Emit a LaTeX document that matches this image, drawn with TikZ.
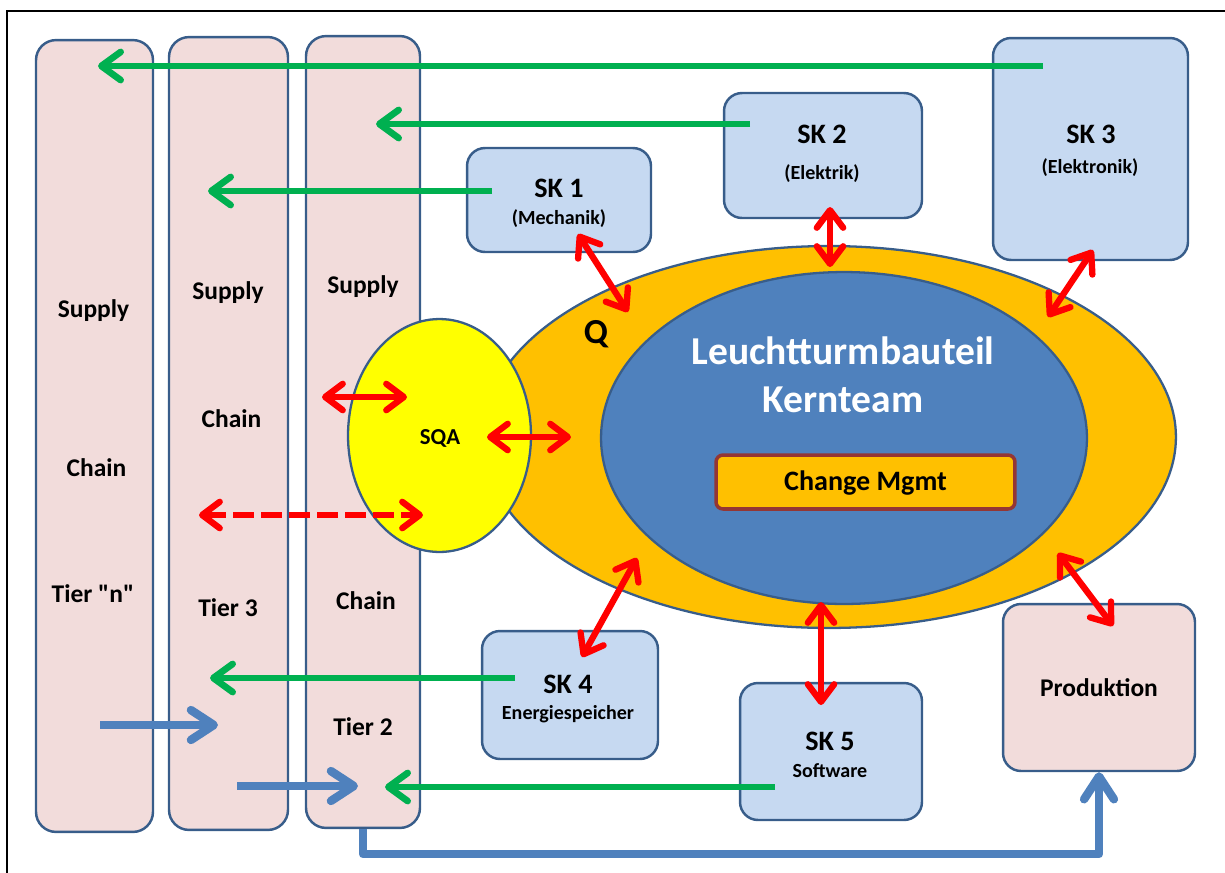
\documentclass[tikz,border=0pt]{standalone}
\usepackage{fontspec}
\setmainfont{Carlito}[Ligatures=TeXOff]
\usetikzlibrary{arrows.meta,shapes.geometric}

\definecolor{pinkfill}{HTML}{F2DCDB}
\definecolor{edgeblue}{HTML}{385D8A}
\definecolor{skfill}{HTML}{C6D9F1}
\definecolor{qorange}{HTML}{FFC000}
\definecolor{coreblue}{HTML}{4F81BD}
\definecolor{sqayellow}{HTML}{FFFF00}
\definecolor{flowgreen}{HTML}{00B050}
\definecolor{linkred}{HTML}{FF0000}
\definecolor{cmborder}{HTML}{943634}

\tikzset{
  column/.style={draw=edgeblue, fill=pinkfill, line width=1.4pt, rounded corners=0.4cm},
  skbox/.style={draw=edgeblue, fill=skfill, line width=1.4pt, rounded corners=0.36cm},
  prodbox/.style={draw=edgeblue, fill=pinkfill, line width=1.4pt, rounded corners=0.36cm},
  lbl/.style={font=\bfseries, anchor=base, inner sep=0pt},
  coltext/.style={lbl, font=\fontsize{14.5}{16}\selectfont\bfseries},
  sktitle/.style={lbl, font=\fontsize{16}{18}\selectfont\bfseries},
  sksub/.style={lbl, font=\fontsize{11.4}{13}\selectfont\bfseries},
  barb/.style={-{Straight Barb[length=11pt, width=16pt, line cap=round, line join=round]}},
  greenflow/.style={draw=flowgreen, line width=3.8pt, barb},
  blueflow/.style={draw=coreblue, line width=4.8pt,
    -{Straight Barb[length=13pt, width=17pt, line cap=round, line join=round]}},
  redlink/.style={draw=linkred, line width=3.6pt,
    {Straight Barb[length=10pt, width=15pt, line cap=round, line join=round]}-{Straight Barb[length=10pt, width=15pt, line cap=round, line join=round]}},
}

\begin{document}
\begin{tikzpicture}[x=0.02cm, y=-0.02cm]
\useasboundingbox (0,0) rectangle (1225,873);
\clip (0,0) rectangle (1225,873);

% outer frame
\draw[line width=1.3pt] (7,11) rectangle (1240,890);

% supply chain columns
\node[column, minimum width=2.34cm, minimum height=15.84cm] (tn) at (94.5,436) {};
\node[column, minimum width=2.38cm, minimum height=15.86cm] (t3) at (228.5,433.5) {};
\node[column, minimum width=2.28cm, minimum height=15.84cm] (t2) at (363,432) {};

% system component boxes
\node[skbox, minimum width=3.68cm, minimum height=2.08cm] (sk1) at (559,200) {};
\node[skbox, minimum width=3.96cm, minimum height=2.50cm] (sk2) at (823,155.5) {};
\node[skbox, minimum width=3.90cm, minimum height=4.44cm] (sk3) at (1090.5,149) {};
\node[skbox, minimum width=3.52cm, minimum height=2.56cm] (sk4) at (570,695) {};
\node[skbox, minimum width=3.64cm, minimum height=2.74cm] (sk5) at (831,751.5) {};
\node[prodbox, minimum width=3.84cm, minimum height=3.34cm] (prod) at (1099,687.5) {};

% quality ring and core team
\node[ellipse, draw=edgeblue, fill=qorange, line width=1.3pt,
      minimum width=13.88cm, minimum height=7.64cm, inner sep=0pt] (qring) at (829,437) {};
\node[ellipse, draw=edgeblue, fill=coreblue, line width=1.3pt,
      minimum width=9.72cm, minimum height=6.64cm, inner sep=0pt] (core) at (844,438) {};
\node[draw=cmborder, fill=qorange, line width=2pt, rounded corners=0.14cm,
      minimum width=5.98cm, minimum height=1.08cm] (cm) at (865.5,482) {};

% supplier quality assurance
\node[ellipse, draw=edgeblue, fill=sqayellow, line width=1.3pt,
      minimum width=3.66cm, minimum height=4.66cm, inner sep=0pt] (sqa) at (439.5,435.5) {};

% connector end points
\coordinate (g1s) at (1043,66);  \coordinate (g1e) at (98,66);
\coordinate (g2s) at (750,124);  \coordinate (g2e) at (376,124);
\coordinate (g3s) at (492,191);  \coordinate (g3e) at (208,191);
\coordinate (g4s) at (515,678);  \coordinate (g4e) at (210,678);
\coordinate (g5s) at (775,787);  \coordinate (g5e) at (385,787);

\coordinate (b1s) at (100,725);  \coordinate (b1e) at (218,725);
\coordinate (b2s) at (237,786);  \coordinate (b2e) at (358,786);

\coordinate (r1a) at (578,234);  \coordinate (r1b) at (628,312);
\coordinate (r2a) at (830,207);  \coordinate (r2b) at (830,267);
\coordinate (r3a) at (1093,250); \coordinate (r3b) at (1048,317);
\coordinate (r4a) at (1058,553); \coordinate (r4b) at (1113,626);
\coordinate (r5a) at (637,558);  \coordinate (r5b) at (582,657);
\coordinate (r6a) at (821,602);  \coordinate (r6b) at (821,705);
\coordinate (r7a) at (322,397);  \coordinate (r7b) at (407,397);
\coordinate (r8a) at (487,437);  \coordinate (r8b) at (571,437);
\coordinate (r9a) at (199,515);  \coordinate (r9b) at (423,515);

% material and information flows
\draw[greenflow] (g1s) -- (g1e);
\draw[greenflow] (g2s) -- (g2e);
\draw[greenflow] (g3s) -- (g3e);
\draw[greenflow] (g4s) -- (g4e);
\draw[greenflow] (g5s) -- (g5e);

\draw[blueflow] (b1s) -- (b1e);
\draw[blueflow] (b2s) -- (b2e);
\draw[blueflow, line join=round] (t2.south) -- ++(0,25) -| (prod.south);

\draw[redlink] (r1a) -- (r1b);
\draw[redlink] (r2a) -- (r2b);
\draw[redlink] (r3a) -- (r3b);
\draw[redlink] (r4a) -- (r4b);
\draw[redlink] (r5a) -- (r5b);
\draw[redlink] (r6a) -- (r6b);
\draw[redlink] (r7a) -- (r7b);
\draw[redlink] (r8a) -- (r8b);
\draw[redlink, dash pattern=on 11.9pt off 4pt] (r9a) -- (r9b);

% column labels
\node[coltext] (tnA) at (93.5,317) {Supply};
\node[coltext] (tnB) at (96.5,476) {Chain};
\node[coltext] (tnC) at (93,602) {Tier "n"};
\node[coltext] (t3A) at (228,299) {Supply};
\node[coltext] (t3B) at (231.5,427) {Chain};
\node[coltext] (t3C) at (228,616) {Tier 3};
\node[coltext] (t2A) at (363,293) {Supply};
\node[coltext] (t2B) at (366,609) {Chain};
\node[coltext] (t2C) at (363,735) {Tier 2};

% component labels
\node[sktitle] (sk1A) at (559,197) {SK 1};
\node[sksub]   (sk1B) at (559,224) {(Mechanik)};
\node[sktitle] (sk2A) at (822,143) {SK 2};
\node[sksub]   (sk2B) at (822,179) {(Elektrik)};
\node[sktitle] (sk3A) at (1091,143) {SK 3};
\node[sksub]   (sk3B) at (1090,173) {(Elektronik)};
\node[sktitle] (sk4A) at (568,693) {SK 4};
\node[sksub]   (sk4B) at (568,719) {Energiespeicher};
\node[sktitle] (sk5A) at (830,750) {SK 5};
\node[sksub]   (sk5B) at (830,777) {Software};
\node[coltext] (prodA) at (1099,696) {Produktion};

% centre labels
\node[lbl, font=\fontsize{20}{22}\selectfont\bfseries] (qA) at (596,343) {Q};
\node[lbl, font=\fontsize{22.5}{26}\selectfont\bfseries, text=white] (coreA) at (843,364) {Leuchtturmbauteil};
\node[lbl, font=\fontsize{22.5}{26}\selectfont\bfseries, text=white] (coreB) at (843,412) {Kernteam};
\node[lbl, font=\fontsize{16}{18}\selectfont\bfseries] (cmA) at (865.5,490) {Change Mgmt};
\node[lbl, font=\fontsize{13}{15}\selectfont\bfseries] (sqaA) at (440,444) {SQA};
\end{tikzpicture}
\end{document}
